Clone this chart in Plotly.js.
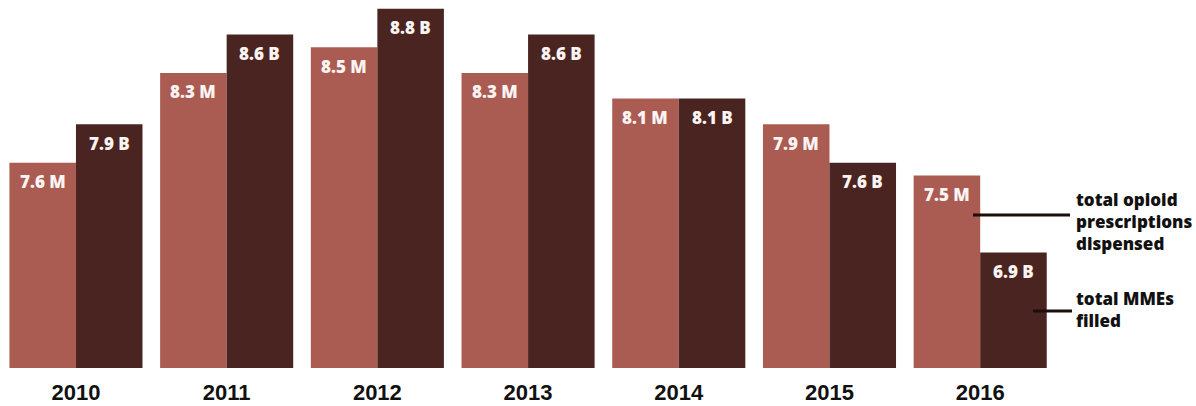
<!DOCTYPE html>
<html>
<head>
<meta charset="utf-8">
<script src="https://cdn.plot.ly/plotly-3.0.1.min.js"></script>
<style>html,body{margin:0;padding:0;background:#fff;}#chart{width:1196px;height:406px;}</style>
</head>
<body>
<div id="chart"></div>
<script>
const years = ['2010', '2011', '2012', '2013', '2014', '2015', '2016'];
const prescriptions = [7.6, 8.3, 8.5, 8.3, 8.1, 7.9, 7.5];   // millions
const mmes = [7.9, 8.6, 8.8, 8.6, 8.1, 7.6, 6.9];            // billions
const prescriptionUnit = 'M';
const mmeUnit = 'B';
const legendPrescriptions = 'total opioid<br>prescriptions<br>dispensed';
const legendMmes = 'total MMEs<br>filled';

const lightColor = '#AB5C52';
const darkColor = '#4A2420';
const labelFont = {family: '"Open Sans", Lato, sans-serif', size: 17, color: '#FBF4F2', weight: 800};
const legendFont = {family: '"Open Sans", Lato, sans-serif', size: 17, color: '#111111', weight: 800};

const traces = [
  {type: 'bar', x: years, y: prescriptions, marker: {color: lightColor}, hoverinfo: 'skip', name: 'prescriptions'},
  {type: 'bar', x: years, y: mmes, marker: {color: darkColor}, hoverinfo: 'skip', name: 'MMEs'}
];

const annotations = [];
years.forEach((yr, i) => {
  annotations.push({x: i, y: prescriptions[i], xref: 'x', yref: 'y', text: prescriptions[i].toFixed(1) + ' ' + prescriptionUnit,
    showarrow: false, xanchor: 'center', yanchor: 'middle', xshift: -33.3, yshift: -19, font: labelFont});
  annotations.push({x: i, y: mmes[i], xref: 'x', yref: 'y', text: mmes[i].toFixed(1) + ' ' + mmeUnit,
    showarrow: false, xanchor: 'center', yanchor: 'middle', xshift: 33.3, yshift: -19, font: labelFont});
});
annotations.push({xref: 'paper', yref: 'paper', x: 1074/1196, y: 0.397, text: legendPrescriptions, showarrow: false,
  xanchor: 'left', yanchor: 'middle', align: 'left', font: legendFont});
annotations.push({xref: 'paper', yref: 'paper', x: 1074/1196, y: 0.160, text: legendMmes, showarrow: false,
  xanchor: 'left', yanchor: 'middle', align: 'left', font: legendFont});

const shapes = [
  {type: 'line', xref: 'paper', yref: 'paper', x0: 973/1196, x1: 1070/1196, y0: (368-215)/368, y1: (368-215)/368,
    line: {color: '#1a0f0d', width: 3}},
  {type: 'line', xref: 'paper', yref: 'paper', x0: 1033/1196, x1: 1072/1196, y0: (368-311)/368, y1: (368-311)/368,
    line: {color: '#1a0f0d', width: 3}}
];

const layout = {
  width: 1196, height: 406,
  margin: {l: 0, r: 0, t: 0, b: 38, pad: 0},
  paper_bgcolor: '#ffffff', plot_bgcolor: '#ffffff',
  barmode: 'group', bargap: 0.117, bargroupgap: 0,
  showlegend: false,
  xaxis: {type: 'category', range: [-0.504, 7.432], showgrid: false, zeroline: false, showline: false, ticks: '',
    ticklabelstandoff: 9,
    tickfont: {family: '"Liberation Sans", Arial, sans-serif', size: 22, color: '#111111', weight: 700}, fixedrange: true},
  yaxis: {range: [6, 6 + 368/128.3], showgrid: false, zeroline: false, showline: false, showticklabels: false, ticks: '', fixedrange: true},
  annotations: annotations,
  shapes: shapes
};

Plotly.newPlot('chart', traces, layout, {displayModeBar: false, staticPlot: true});
</script>
</body>
</html>
